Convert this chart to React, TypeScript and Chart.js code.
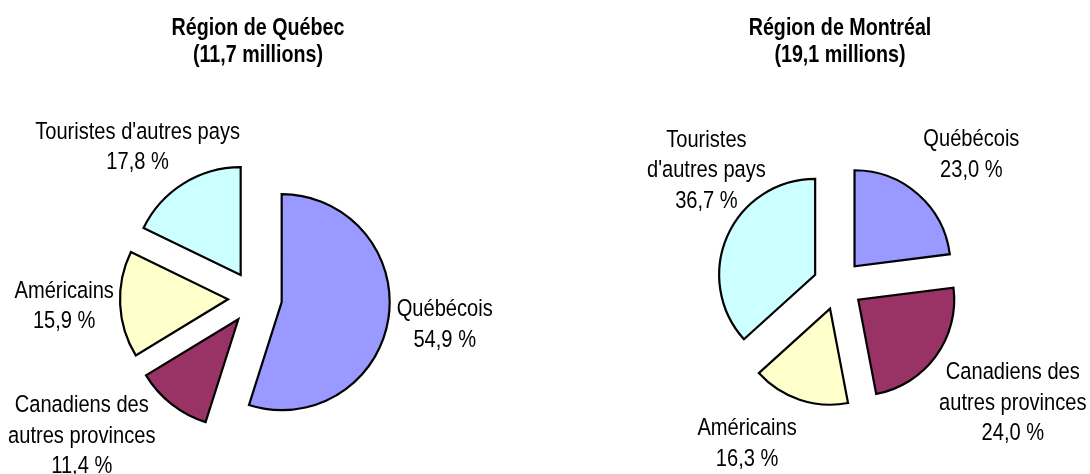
import React, { useEffect, useRef } from 'react';
import { Chart, registerables } from 'chart.js';

Chart.register(...registerables);

// ---- data ----
const categories = ['Québécois', 'Canadiens des autres provinces', 'Américains', "Touristes d'autres pays"];
const sliceColors = ['#9999FF', '#993366', '#FFFFCC', '#CCFFFF'];

const quebecTitle = ['Région de Québec', '(11,7 millions)'];
const quebecShares = [54.9, 11.4, 15.9, 17.8];
const quebecLabelLines = [['Québécois'], ['Canadiens des', 'autres provinces'], ['Américains'], ["Touristes d'autres pays"]];

const montrealTitle = ['Région de Montréal', '(19,1 millions)'];
const montrealShares = [23.0, 24.0, 16.3, 36.7];
const montrealLabelLines = [['Québécois'], ['Canadiens des', 'autres provinces'], ['Américains'], ['Touristes', "d'autres pays"]];

// Arial Narrow look: Arial-metric font compressed horizontally
const FONT_FAMILY = "'Liberation Sans', Arial, sans-serif";
const NARROW = 0.82;

const fmtPct = (v: number) => v.toFixed(1).replace('.', ',') + ' %';

function narrowText(ctx: CanvasRenderingContext2D, text: string, x: number, y: number) {
  ctx.save();
  ctx.translate(x, y);
  ctx.scale(NARROW, 1);
  ctx.fillText(text, 0, 0);
  ctx.restore();
}

const explodedPiePlugin = {
  id: 'explodedPie',
  beforeDatasetDraw(chart: any, args: any, opts: any) {
    const ctx = chart.ctx;
    const d = opts.distance || 0;
    args.meta.data.forEach((arc: any) => {
      const mid = (arc.startAngle + arc.endAngle) / 2;
      ctx.save();
      ctx.translate(Math.cos(mid) * d, Math.sin(mid) * d);
      arc.draw(ctx);
      ctx.restore();
    });
    return false;
  },
  afterDraw(chart: any, _args: any, opts: any) {
    const ctx = chart.ctx;
    const meta = chart.getDatasetMeta(0);
    const values = chart.data.datasets[0].data as number[];
    const d = opts.distance || 0;
    const area = chart.chartArea;
    const cx = (area.left + area.right) / 2;

    ctx.save();
    ctx.fillStyle = '#000';
    ctx.textAlign = 'center';
    ctx.textBaseline = 'alphabetic';

    // titles
    ctx.font = `bold ${opts.titleSize}px ${FONT_FAMILY}`;
    (opts.title as string[]).forEach((line, i) => {
      narrowText(ctx, line, cx + opts.titleShift, opts.titleTop + i * opts.titleLineHeight);
    });

    // slice labels
    const fs = opts.labelSize;
    const lh = opts.labelLineHeight;
    const capH = fs * 0.716;
    ctx.font = `${fs}px ${FONT_FAMILY}`;
    meta.data.forEach((arc: any, i: number) => {
      const mid = (arc.startAngle + arc.endAngle) / 2;
      const ux = Math.cos(mid);
      const uy = Math.sin(mid);
      const sx = arc.x + ux * d;
      const sy = arc.y + uy * d;
      const nudge = opts.nudges[i] || [0, 0];
      const ax = sx + ux * (arc.outerRadius + opts.gap) + nudge[0];
      const ay = sy + uy * (arc.outerRadius + opts.gap) + nudge[1];
      const lines = [...opts.labelLines[i], fmtPct(values[i])];
      const first = ay - ((lines.length - 1) * lh) / 2 + capH / 2;
      lines.forEach((line: string, k: number) => narrowText(ctx, line, ax, first + k * lh));
    });
    ctx.restore();
  },
};

type PieProps = {
  left: number;
  shares: number[];
  title: string[];
  labelLines: string[][];
  radius: number;
  distance: number;
  padding: { left: number; right: number; top: number; bottom: number };
  nudges: number[][];
  titleShift: number;
};

function ExplodedPie(p: PieProps) {
  const ref = useRef<HTMLCanvasElement | null>(null);
  useEffect(() => {
    if (!ref.current) return;
    const chart = new Chart(ref.current, {
      type: 'pie',
      data: {
        labels: categories,
        datasets: [
          {
            data: p.shares,
            backgroundColor: sliceColors,
            borderColor: '#000000',
            borderWidth: 2.2,
            borderJoinStyle: 'miter',
            radius: p.radius,
            clip: false,
          } as any,
        ],
      },
      options: {
        responsive: false,
        animation: false,
        devicePixelRatio: 1,
        layout: { padding: p.padding },
        events: [],
        plugins: {
          legend: { display: false },
          tooltip: { enabled: false },
          title: { display: false },
          explodedPie: {
            distance: p.distance,
            title: p.title,
            titleSize: 24,
            titleTop: 35,
            titleLineHeight: 27,
            titleShift: p.titleShift,
            labelSize: 24.5,
            labelLineHeight: 30.5,
            labelLines: p.labelLines,
            gap: 58,
            nudges: p.nudges,
          },
        } as any,
      },
      plugins: [explodedPiePlugin as any],
    });
    return () => chart.destroy();
  }, []);
  return (
    <canvas
      ref={ref}
      width={545}
      height={474}
      style={{ position: 'absolute', left: p.left, top: 0, width: 545, height: 474 }}
    />
  );
}

export default function App() {
  return (
    <div style={{ position: 'absolute', left: 0, top: 0, width: 1090, height: 474, background: '#fff' }}>
      <ExplodedPie
        left={0}
        shares={quebecShares}
        title={quebecTitle}
        labelLines={quebecLabelLines}
        radius={108}
        distance={27}
        padding={{ left: 0, right: 35, top: 122, bottom: 0 }}
        nudges={[[-1, -5], [-54, -16], [2, -3], [-15, 11]]}
        titleShift={3}
      />
      <ExplodedPie
        left={545}
        shares={montrealShares}
        title={montrealTitle}
        labelLines={montrealLabelLines}
        radius={96}
        distance={25}
        padding={{ left: 41, right: 0, top: 96, bottom: 0 }}
        nudges={[[15, 2], [30, 11], [-34, -13], [32, -44]]}
        titleShift={2}
      />
    </div>
  );
}
